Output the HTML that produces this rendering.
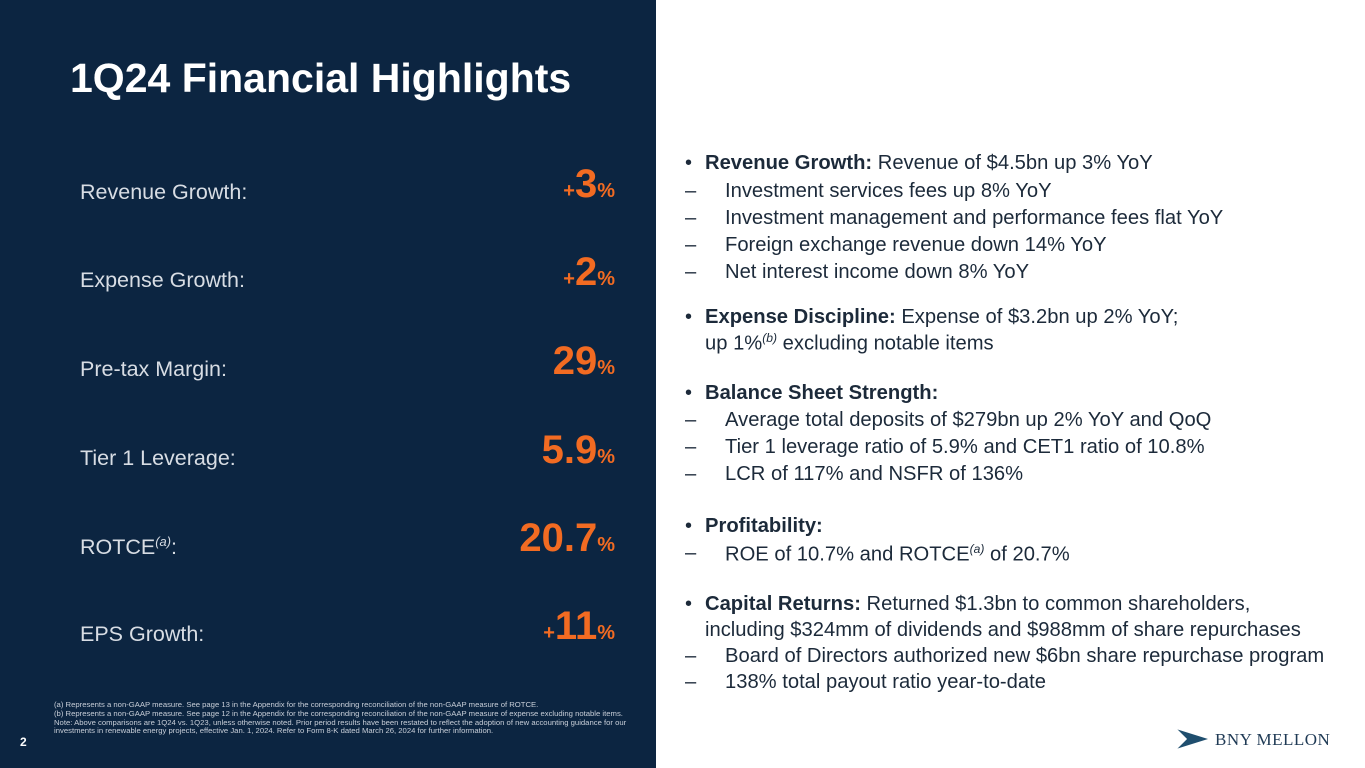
<!DOCTYPE html>
<html><head><meta charset="utf-8"><style>
body{margin:0;width:1365px;height:768px;overflow:hidden;font-family:"Liberation Sans",sans-serif;background:#fff;position:relative}
#panel{position:absolute;left:0;top:0;width:656px;height:768px;background:#0c2541}
.t{position:absolute;white-space:nowrap}
h1{position:absolute;left:70px;top:55px;margin:0;color:#fff;font-size:41px;font-weight:bold}
.lab{position:absolute;left:80px;color:#d8dde4;font-size:21.5px}
.val{position:absolute;right:750px;color:#f26b22;font-weight:bold;font-size:40px;text-align:right;white-space:nowrap}
.val small{font-size:20px}
.r{position:absolute;left:685px;font-size:20.2px;color:#1c2a3a;white-space:nowrap}
.r.d{left:725px}
.r.d::before{content:"–";position:absolute;left:-40px}
.r.b::before{content:"•";position:absolute;left:-20px;font-size:20px}
.r.b{left:705px}
.r.c{left:705px}
.fn{position:absolute;left:54px;top:701px;width:596px;color:#c8ced8;font-size:7.7px;line-height:8.8px}
sup{font-size:60%;font-style:italic}
</style></head><body>
<div id="panel"></div>
<h1>1Q24 Financial Highlights</h1>
<div class="lab" style="top:180px">Revenue Growth:</div>
<div class="val" style="top:162px"><small>+</small>3<small>%</small></div>
<div class="lab" style="top:268px">Expense Growth:</div>
<div class="val" style="top:250px"><small>+</small>2<small>%</small></div>
<div class="lab" style="top:357px">Pre-tax Margin:</div>
<div class="val" style="top:339px">29<small>%</small></div>
<div class="lab" style="top:446px">Tier 1 Leverage:</div>
<div class="val" style="top:428px">5.9<small>%</small></div>
<div class="lab" style="top:534px">ROTCE<sup>(a)</sup>:</div>
<div class="val" style="top:516px">20.7<small>%</small></div>
<div class="lab" style="top:622px">EPS Growth:</div>
<div class="val" style="top:604px"><small>+</small>11<small>%</small></div>

<div class="r b" style="top:152px"><b>Revenue Growth:</b> Revenue of $4.5bn up 3% YoY</div>
<div class="r d" style="top:180px">Investment services fees up 8% YoY</div>
<div class="r d" style="top:207px">Investment management and performance fees flat YoY</div>
<div class="r d" style="top:234px">Foreign exchange revenue down 14% YoY</div>
<div class="r d" style="top:261px">Net interest income down 8% YoY</div>
<div class="r b" style="top:306px"><b>Expense Discipline:</b> Expense of $3.2bn up 2% YoY;</div>
<div class="r c" style="top:331px">up 1%<sup>(b)</sup> excluding notable items</div>
<div class="r b" style="top:382px"><b>Balance Sheet Strength:</b></div>
<div class="r d" style="top:409px">Average total deposits of $279bn up 2% YoY and QoQ</div>
<div class="r d" style="top:436px">Tier 1 leverage ratio of 5.9% and CET1 ratio of 10.8%</div>
<div class="r d" style="top:463px">LCR of 117% and NSFR of 136%</div>
<div class="r b" style="top:515px"><b>Profitability:</b></div>
<div class="r d" style="top:542px">ROE of 10.7% and ROTCE<sup>(a)</sup> of 20.7%</div>
<div class="r b" style="top:593px"><b>Capital Returns:</b> Returned $1.3bn to common shareholders,</div>
<div class="r c" style="top:619px">including $324mm of dividends and $988mm of share repurchases</div>
<div class="r d" style="top:645px">Board of Directors authorized new $6bn share repurchase program</div>
<div class="r d" style="top:671px">138% total payout ratio year-to-date</div>

<div class="t" style="left:20px;top:735px;color:#fff;font-weight:bold;font-size:12px">2</div>
<div class="fn">(a) Represents a non-GAAP measure. See page 13 in the Appendix for the corresponding reconciliation of the non-GAAP measure of ROTCE.<br>(b) Represents a non-GAAP measure. See page 12 in the Appendix for the corresponding reconciliation of the non-GAAP measure of expense excluding notable items.<br>Note: Above comparisons are 1Q24 vs. 1Q23, unless otherwise noted. Prior period results have been restated to reflect the adoption of new accounting guidance for our investments in renewable energy projects, effective Jan. 1, 2024. Refer to Form 8-K dated March 26, 2024 for further information.</div>

<svg style="position:absolute;left:1174px;top:727px" width="36" height="24"><polygon points="2,2 34,12 2,22 12,12" fill="#1f4e6e"/><polyline points="2,2 12,12 2,22" fill="none" stroke="#fff" stroke-width="1.5"/></svg>
<div class="t" style="left:1215px;top:730px;font-family:'Liberation Serif',serif;font-size:17px;color:#1f3a55;letter-spacing:0.5px">BNY MELLON</div>
</body></html>
